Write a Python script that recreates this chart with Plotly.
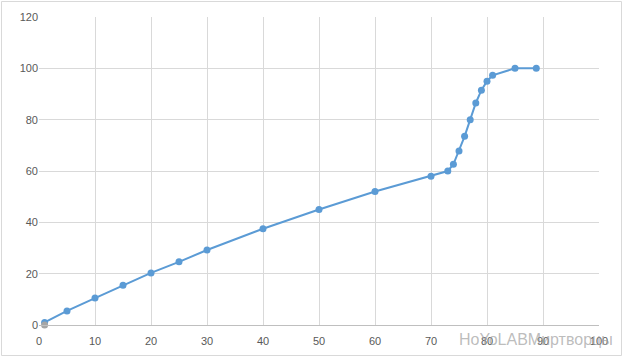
import plotly.graph_objects as go

x_main = [1, 5, 10, 15, 20, 25, 30, 40, 50, 60, 70, 73, 74, 75, 76, 77, 78, 79, 80, 81, 85, 88.8]
y_main = [1, 5.5, 10.5, 15.5, 20.3, 24.6, 29.2, 37.5, 45, 52, 58, 60, 62.6, 67.8, 73.5, 80, 86.5, 91.5, 95, 97.3, 100, 100]
x_second = [1]
y_second = [0]

x_ticks = [0, 10, 20, 30, 40, 50, 60, 70, 80, 90, 100]
y_ticks = [0, 20, 40, 60, 80, 100, 120]

W, H = 625, 360
L, R, T, B = 39, 26, 17, 35

fig = go.Figure()
fig.add_trace(go.Scatter(x=x_main, y=y_main, mode="lines+markers",
                         line=dict(color="#5B9BD5", width=2),
                         marker=dict(color="#5B9BD5", size=7),
                         showlegend=False, cliponaxis=False))
fig.add_trace(go.Scatter(x=x_second, y=y_second, mode="markers",
                         marker=dict(color="#A5A5A5", size=7),
                         showlegend=False, cliponaxis=False))

font = dict(family="Liberation Sans, Arial, sans-serif", size=11, color="#595959")
fig.update_layout(
    width=W, height=H,
    margin=dict(l=L, r=R, t=T, b=B),
    paper_bgcolor="white", plot_bgcolor="white",
    font=font,
    xaxis=dict(range=[0, 100], tickvals=x_ticks, showgrid=True, gridcolor="#D9D9D9",
               gridwidth=1, zeroline=False, showline=True, linecolor="#BFBFBF",
               ticks="", tickfont=font, ticklabelstandoff=6, fixedrange=True),
    yaxis=dict(range=[0, 120], tickvals=y_ticks, showgrid=True, gridcolor="#D9D9D9",
               gridwidth=1, zeroline=False, showline=False,
               ticks="", ticksuffix="  ", tickfont=font, fixedrange=True),
    shapes=[dict(type="rect", xref="paper", yref="paper",
                 x0=(1.5 - L) / (W - L - R), x1=(621.5 - L) / (W - L - R),
                 y0=(H - B - 355.5) / (H - T - B), y1=(H - B - 1.5) / (H - T - B),
                 line=dict(color="#D9D9D9", width=1), fillcolor="rgba(0,0,0,0)", layer="below")],
    annotations=[dict(text="HoYoLABМиртворцы", xref="paper", yref="paper",
                      x=(536 - L) / (W - L - R), y=(H - B - 339) / (H - T - B),
                      xanchor="center", yanchor="middle", showarrow=False,
                      font=dict(family="Liberation Sans, Arial, sans-serif", size=16,
                                color="rgba(160,160,160,0.7)"))],
)

fig.write_html("out.html")
